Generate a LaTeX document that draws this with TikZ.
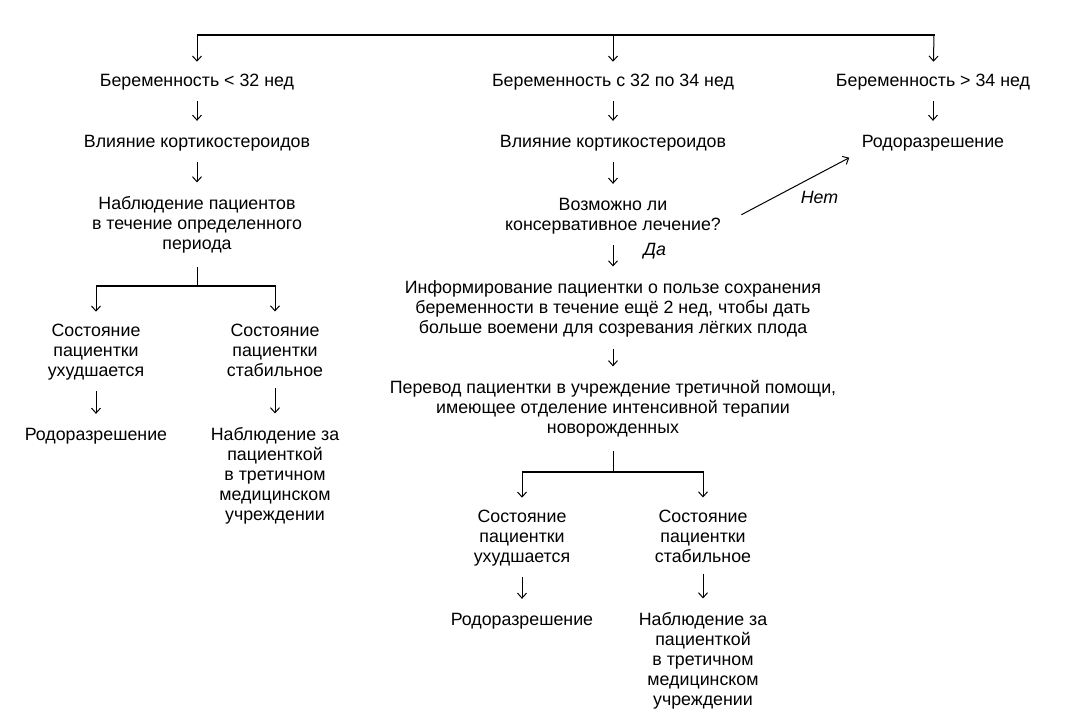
\documentclass[tikz,border=0pt]{standalone}
\usepackage{fontspec}
\setmainfont{Liberation Sans}
\usetikzlibrary{arrows.meta}

\begin{document}
\begin{tikzpicture}[x=1pt,y=-1pt,
  txt/.style={align=center, inner sep=0pt, font=\fontsize{17.8}{20}\selectfont},
  lbl/.style={inner sep=0pt, font=\fontsize{17.8}{20}\selectfont\itshape},
  arr/.style={line width=1pt, -{Straight Barb[length=5pt,width=9pt]}, shorten <=11pt, shorten >=14pt},
  drop/.style={line width=1pt, -{Straight Barb[length=5pt,width=9pt]}, shorten >=12pt},
  stem/.style={line width=1pt, shorten <=13pt},
  bar/.style={line width=2pt}]
  \useasboundingbox (0,0) rectangle (1086,726);

  % Verzweigung oben
  \coordinate (top-l) at (197,35);
  \coordinate (top-m) at (613,35);
  \coordinate (top-r) at (934,35);
  \draw[bar] (196.5,35) -- (934.5,35);

  % Beremennost < 32 ned
  \node[txt] (b1) at (197,82) {Беременность < 32 нед};
  \node[txt] (k1) at (197,143) {Влияние кортикостероидов};
  \node[txt] (n1) at (197,225) {Наблюдение пациентов\\в течение определенного\\периода};
  \coordinate (lbar-l) at (96,286);
  \coordinate (lbar-m) at (197,286);
  \coordinate (lbar-r) at (275,286);
  \node[txt] (s1a) at (96,352) {Состояние\\пациентки\\ухудшается};
  \node[txt] (s2a) at (275,350) {Состояние\\пациентки\\стабильное};
  \node[txt] (ra) at (96,436) {Родоразрешение};
  \node[txt] (na) at (275,476) {Наблюдение за\\пациенткой\\в третичном\\медицинском\\учреждении};

  % Beremennost 32 - 34 ned
  \node[txt] (b2) at (613,82) {Беременность с 32 по 34 нед};
  \node[txt] (k2) at (613,143) {Влияние кортикостероидов};
  \node[txt] (v) at (613,216) {Возможно ли\\консервативное лечение?};
  \node[txt] (i) at (613,309) {Информирование пациентки о пользе сохранения\\беременности в течение ещё 2 нед, чтобы дать\\больше воемени для созревания лёгких плода};
  \node[txt] (p) at (613,409) {Перевод пациентки в учреждение третичной помощи,\\имеющее отделение интенсивной терапии\\новорожденных};
  \coordinate (mbar-l) at (522,472);
  \coordinate (mbar-m) at (613,472);
  \coordinate (mbar-r) at (703,472);
  \node[txt] (s1b) at (522,538) {Состояние\\пациентки\\ухудшается};
  \node[txt] (s2b) at (703,536) {Состояние\\пациентки\\стабильное};
  \node[txt] (rb) at (522,621) {Родоразрешение};
  \node[txt] (nb) at (703,661) {Наблюдение за\\пациенткой\\в третичном\\медицинском\\учреждении};

  % Beremennost > 34 ned
  \node[txt] (b3) at (933,82) {Беременность > 34 нед};
  \node[txt] (r3) at (933,143) {Родоразрешение};

  % Pfeile
  \draw[drop] (top-l) -- (b1);
  \draw[drop] (top-m) -- (b2);
  \draw[drop] (top-r) -- (b3);
  \draw[arr] (b1) -- (k1);
  \draw[arr] (k1) -- (n1);
  \draw[stem] (n1) -- (lbar-m);
  \draw[bar] (95.5,286) -- (275.5,286);
  \draw[drop] (lbar-l) -- (s1a);
  \draw[drop] (lbar-r) -- (s2a);
  \draw[arr] (s1a) -- (ra);
  \draw[arr] (s2a) -- (na);

  \draw[arr] (b2) -- (k2);
  \draw[arr] (k2) -- (v);
  \draw[arr] (v) -- (i) node[lbl, pos=0.36, right=30pt] (da) {Да};
  \draw[arr, shorten <=23pt, shorten >=14pt] (v.-5) -- (r3.south west)
    node[lbl, pos=0.7, below=17pt] (net) {Нет};
  \draw[arr] (i) -- (p);
  \draw[stem] (p) -- (mbar-m);
  \draw[bar] (521.5,472) -- (703.5,472);
  \draw[drop] (mbar-l) -- (s1b);
  \draw[drop] (mbar-r) -- (s2b);
  \draw[arr] (s1b) -- (rb);
  \draw[arr] (s2b) -- (nb);

  \draw[arr] (b3) -- (r3);
\end{tikzpicture}
\end{document}
